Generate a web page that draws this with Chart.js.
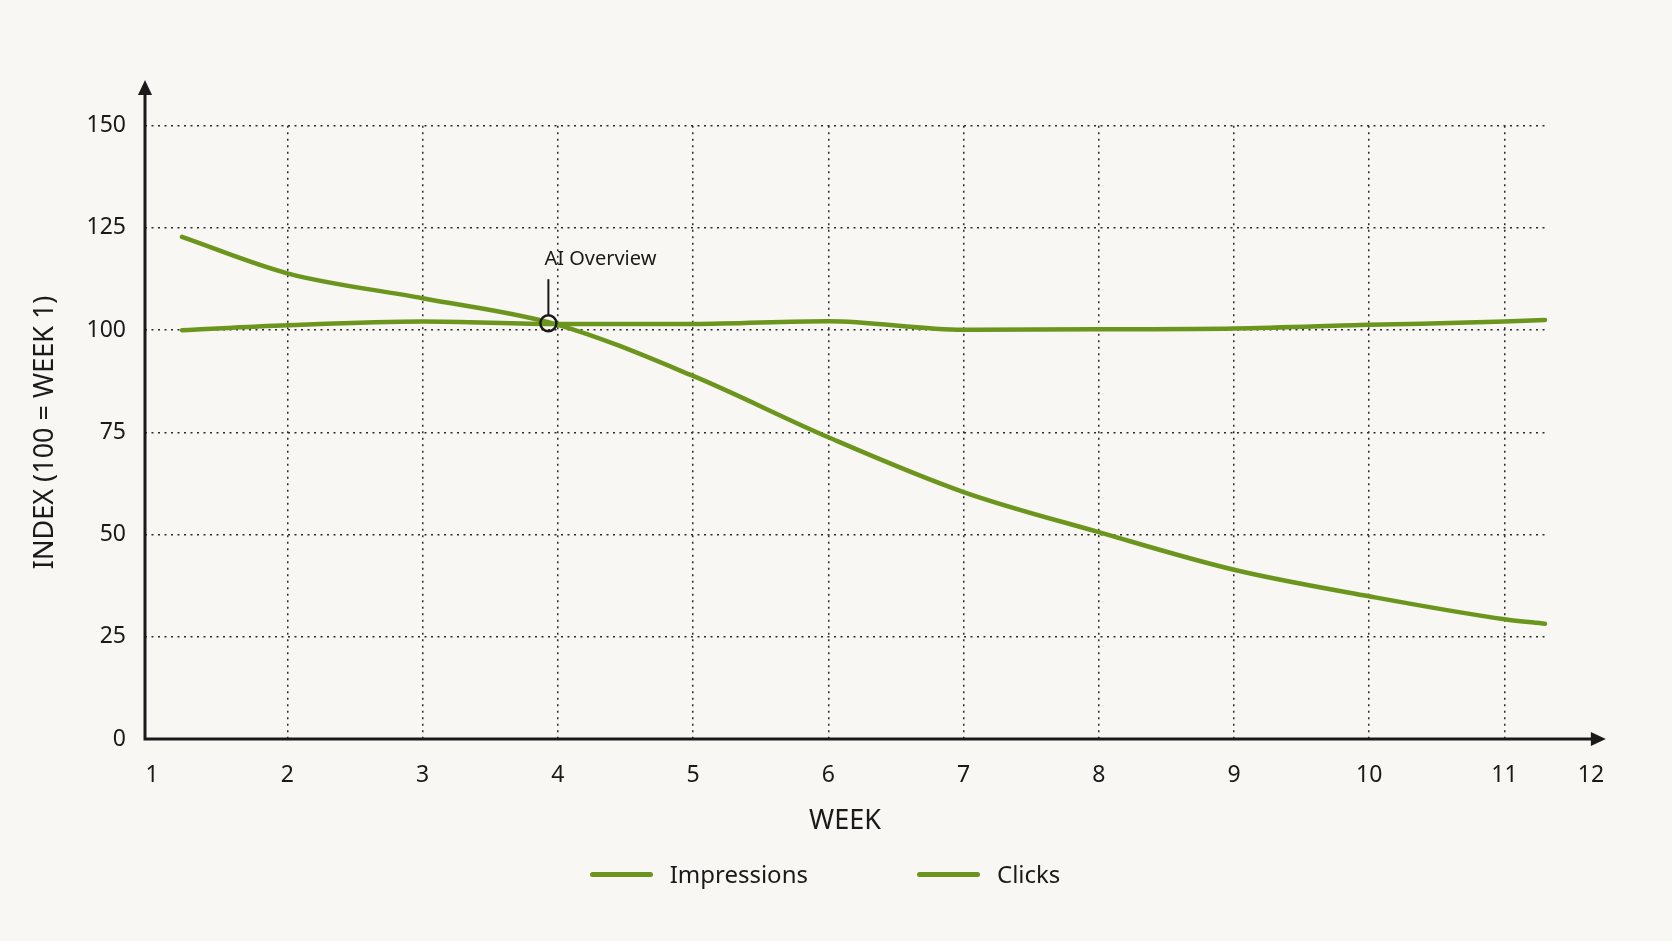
<!DOCTYPE html>
<html>
<head>
<meta charset="utf-8">
<script src="https://cdn.jsdelivr.net/npm/chart.js@4.4.0/dist/chart.umd.min.js"></script>
<style>
    html, body { margin: 0; padding: 0; background: #f8f7f3; }
    #wrap { position: relative; width: 1672px; height: 941px; }
    #legend {
        position: absolute; left: 0; top: 859px; width: 1650px;
        display: flex; justify-content: center; align-items: center;
        font-family: 'Noto Sans', sans-serif; font-size: 24px; line-height: 30px; color: #1a1a1a;
    }
    #legend .item { display: flex; align-items: center; }
    #legend .item + .item { margin-left: 109px; }
    #legend .swatch { display: inline-block; width: 63px; height: 5px; border-radius: 3px; margin-right: 17px; }
</style>
</head>
<body>
<div id="wrap">
    <canvas id="chart" width="1672" height="941"></canvas>
    <div id="legend"></div>
</div>
<script>
// data
const weeks = [1.22, 2, 3, 4, 5, 6, 7, 8, 9, 10, 11, 11.3]
const impressions = [122.8, 113.9, 107.8, 101.3, 88.8, 73.8, 60.4, 50.6, 41.4, 34.9, 29.3, 28.2]
const clicks = [100.0, 101.2, 102.1, 101.5, 101.5, 102.2, 100.1, 100.2, 100.4, 101.3, 102.1, 102.5]

const xTickWeeks = [1, 2, 3, 4, 5, 6, 7, 8, 9, 10, 11, 11.64]
const xTickLabels = ['1', '2', '3', '4', '5', '6', '7', '8', '9', '10', '11', '12']
const yTicks = [0, 25, 50, 75, 100, 125, 150]

const annotWeek = 3.93
const annotValue = 101.7
const annotText = 'AI Overview'

const green = '#6b951c'
const ink = '#1a1a1a'
const bg = '#f8f7f3'

Chart.defaults.font.family = "'Noto Sans', sans-serif"
Chart.defaults.color = ink

const toPoints = (xs, ys) => xs.map((w, i) => ({ x: w, y: ys[i] }))

// axis lines with arrow heads, plus the annotation stem and label
const axesAndNote = {
    id: 'axesAndNote',
    afterDatasetsDraw(chart) {
        const { ctx, chartArea: a, scales: { x, y } } = chart
        const xTip = x.getPixelForValue(11.75)
        const yTip = y.getPixelForValue(161.2)
        ctx.save()
        ctx.strokeStyle = ink
        ctx.fillStyle = ink
        ctx.lineWidth = 3
        ctx.beginPath()
        ctx.moveTo(a.left, yTip + 12)
        ctx.lineTo(a.left, a.bottom)
        ctx.lineTo(xTip - 12, a.bottom)
        ctx.stroke()
        ctx.beginPath()
        ctx.moveTo(xTip, a.bottom)
        ctx.lineTo(xTip - 15, a.bottom - 7)
        ctx.lineTo(xTip - 15, a.bottom + 7)
        ctx.closePath()
        ctx.fill()
        ctx.beginPath()
        ctx.moveTo(a.left, yTip)
        ctx.lineTo(a.left - 7, yTip + 15)
        ctx.lineTo(a.left + 7, yTip + 15)
        ctx.closePath()
        ctx.fill()

        const px = x.getPixelForValue(annotWeek)
        const py = y.getPixelForValue(annotValue)
        ctx.lineWidth = 2
        ctx.beginPath()
        ctx.moveTo(px, py - 8)
        ctx.lineTo(px, py - 44)
        ctx.stroke()
        ctx.font = "20px 'Noto Sans', sans-serif"
        ctx.textAlign = 'left'
        ctx.textBaseline = 'alphabetic'
        ctx.fillText(annotText, px - 4, py - 58)
        ctx.restore()
    }
}

const htmlLegend = {
    id: 'htmlLegend',
    afterUpdate(chart) {
        let out = ''
        chart.data.datasets.forEach(ds => {
            if (ds.noLegend) return
            out += `<div class="item"><span class="swatch" style="background:${ds.borderColor}"></span><span>${ds.label}</span></div>`
        })
        document.getElementById('legend').innerHTML = out
    }
}

const gridDots = [2, 4.5]

new Chart(document.getElementById('chart'), {
    type: 'line',
    data: {
        datasets: [
            {
                label: 'annotation',
                noLegend: true,
                type: 'scatter',
                data: [{ x: annotWeek, y: annotValue }],
                pointRadius: 8,
                pointBorderWidth: 2.5,
                pointBorderColor: ink,
                pointBackgroundColor: 'rgba(0,0,0,0)',
                order: 0
            },
            {
                label: 'Impressions',
                data: toPoints(weeks, impressions),
                borderColor: green,
                borderWidth: 4.5,
                borderCapStyle: 'round',
                pointRadius: 0,
                cubicInterpolationMode: 'monotone',
                clip: false,
                order: 1
            },
            {
                label: 'Clicks',
                data: toPoints(weeks, clicks),
                borderColor: green,
                borderWidth: 4.5,
                borderCapStyle: 'round',
                pointRadius: 0,
                cubicInterpolationMode: 'monotone',
                clip: false,
                order: 1
            }
        ]
    },
    options: {
        responsive: false,
        animation: false,
        layout: { padding: { top: 125.7, right: 127, bottom: 102, left: 0 } },
        plugins: {
            legend: { display: false },
            tooltip: { enabled: false }
        },
        scales: {
            x: {
                type: 'linear',
                min: 0.947,
                max: 11.3,
                afterBuildTicks: s => { s.ticks = xTickWeeks.map(v => ({ value: v })) },
                afterFit: s => { s.height = 100 },
                ticks: {
                    autoSkip: false,
                    maxRotation: 0,
                    padding: 23,
                    font: { size: 23 },
                    callback: (v, i) => xTickLabels[i]
                },
                grid: {
                    drawTicks: false,
                    lineWidth: 1.5,
                    color: c => (c.tick && (c.tick.value === 1 || c.tick.value > 11.3)) ? 'rgba(0,0,0,0)' : '#2a2a2a'
                },
                border: { display: false, dash: gridDots },
                title: {
                    display: true,
                    text: 'WEEK',
                    font: { size: 27 },
                    padding: { top: 0, bottom: 1 }
                }
            },
            y: {
                min: 0,
                max: 150,
                afterBuildTicks: s => { s.ticks = yTicks.map(v => ({ value: v })) },
                afterFit: s => { s.width = 145 },
                ticks: { padding: 19, font: { size: 23 } },
                grid: {
                    drawTicks: false,
                    lineWidth: 1.5,
                    color: c => (c.tick && c.tick.value === 0) ? 'rgba(0,0,0,0)' : '#2a2a2a'
                },
                border: { display: false, dash: gridDots },
                title: {
                    display: true,
                    text: 'INDEX (100 = WEEK 1)',
                    font: { size: 27 },
                    padding: { top: 29, bottom: 0 }
                }
            }
        }
    },
    plugins: [axesAndNote, htmlLegend]
})
</script>
</body>
</html>
